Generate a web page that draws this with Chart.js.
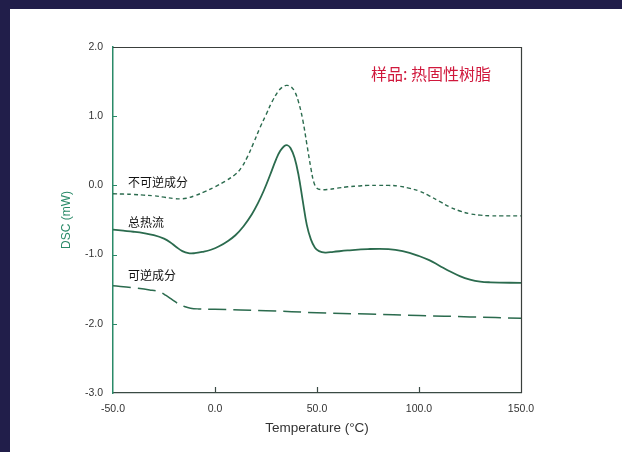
<!DOCTYPE html>
<html>
<head>
<meta charset="utf-8">
<script src="https://cdn.jsdelivr.net/npm/chart.js@4.4.1/dist/chart.umd.min.js"></script>
<style>
  html, body { margin: 0; padding: 0; width: 622px; height: 452px; overflow: hidden; background: #211e4a; }
  #panel { position: absolute; left: 10px; top: 9px; width: 612px; height: 443px; background: #ffffff; }
  #c { position: absolute; left: 0; top: 0; }
</style>
</head>
<body>
<div id="panel"></div>
<canvas id="c" width="622" height="452"></canvas>
<script>
// ---- Data ----
const chartTitle = '样品: 热固性树脂';
const xTitle = 'Temperature (°C)';
const yTitle = 'DSC (mW)';
const seriesNames = ['不可逆成分', '总热流', '可逆成分'];

// Non-reversing component (short dashes)
const nonRevT = [-50, -45, -40, -35, -30, -25, -20, -17, -14, -10, -5, 0, 5, 10, 13, 16, 19, 22, 25, 28, 31, 33, 35, 37, 39, 41, 43, 45, 47, 48.5, 50, 52, 55, 60, 65, 70, 75, 80, 85, 90, 95, 100, 105, 110, 115, 120, 125, 130, 135, 140, 150];
const nonRevV = [-0.12, -0.125, -0.13, -0.14, -0.15, -0.17, -0.19, -0.195, -0.185, -0.15, -0.09, -0.02, 0.06, 0.16, 0.26, 0.42, 0.62, 0.83, 1.02, 1.21, 1.36, 1.42, 1.445, 1.43, 1.36, 1.20, 0.95, 0.60, 0.25, 0.04, -0.04, -0.06, -0.06, -0.04, -0.02, -0.01, 0.00, 0.00, 0.00, -0.01, -0.04, -0.08, -0.15, -0.23, -0.31, -0.37, -0.41, -0.43, -0.44, -0.44, -0.44];

// Total heat flow (solid)
const totalT = [-50, -45, -40, -35, -30, -25, -22, -19, -16, -13, -10, -6, -2, 2, 6, 10, 14, 18, 21, 24, 27, 30, 32, 34, 35.5, 37, 39, 41, 43, 45, 47, 49, 51, 54, 58, 65, 75, 85, 92, 100, 105, 110, 115, 120, 125, 130, 135, 150];
const totalV = [-0.64, -0.655, -0.67, -0.69, -0.72, -0.77, -0.82, -0.89, -0.95, -0.98, -0.98, -0.96, -0.93, -0.88, -0.81, -0.72, -0.59, -0.42, -0.26, -0.07, 0.15, 0.38, 0.50, 0.57, 0.58, 0.54, 0.40, 0.14, -0.22, -0.57, -0.78, -0.90, -0.95, -0.97, -0.96, -0.94, -0.92, -0.92, -0.95, -1.02, -1.08, -1.16, -1.24, -1.31, -1.36, -1.39, -1.40, -1.41];

// Reversing component (long dashes)
const revT = [-50, -40, -32, -27, -24, -21, -18, -15, -12, -8, 0, 25, 50, 75, 100, 125, 150];
const revV = [-1.45, -1.48, -1.51, -1.54, -1.59, -1.65, -1.71, -1.75, -1.775, -1.785, -1.79, -1.81, -1.84, -1.86, -1.88, -1.90, -1.92];

const xTickMin = -50, xTickMax = 150, xTickStep = 50;
const yTickMin = -3, yTickMax = 2, yTickStep = 1;

function pts(ts, vs) { return ts.map((t, i) => ({ x: t, y: vs[i] })); }

const lineColor = '#2b6b4e';
const axisTeal = '#2a8a68';

const framePlugin = {
  id: 'frame',
  afterDraw(chart) {
    const ctx = chart.ctx;
    const { left, right, top, bottom } = chart.chartArea;
    const xs = chart.scales.x, ys = chart.scales.y;
    ctx.save();
    ctx.strokeStyle = '#3a3f3c';
    ctx.lineWidth = 1.2;
    ctx.beginPath();
    ctx.moveTo(left, top + 0.5); ctx.lineTo(right + 0.5, top + 0.5); ctx.lineTo(right + 0.5, bottom);
    ctx.stroke();
    ctx.strokeStyle = '#3a4a44';
    ctx.lineWidth = 1.2;
    ctx.beginPath();
    xs.ticks.forEach(t => {
      if (t.value > xTickMin && t.value < xTickMax) {
        const px = Math.round(xs.getPixelForValue(t.value)) + 0.5;
        ctx.moveTo(px, bottom); ctx.lineTo(px, bottom - 6);
      }
    });
    ctx.stroke();
    ctx.strokeStyle = axisTeal;
    ctx.beginPath();
    ys.ticks.forEach(t => {
      if (t.value > yTickMin && t.value < yTickMax) {
        const py = Math.round(ys.getPixelForValue(t.value)) + 0.5;
        ctx.moveTo(left, py); ctx.lineTo(left + 4, py);
      }
    });
    ctx.stroke();
    ctx.fillStyle = '#d0183c';
    ctx.font = '16px "Noto Sans CJK SC"';
    ctx.textBaseline = 'middle';
    ctx.textAlign = 'left';
    ctx.fillText(chartTitle, 371, 74);
    ctx.fillStyle = '#111111';
    ctx.font = '12px "Noto Sans CJK SC"';
    ctx.fillText(seriesNames[0], 128, 182);
    ctx.fillText(seriesNames[1], 128, 222);
    ctx.fillText(seriesNames[2], 128, 275);
    ctx.restore();
  }
};

new Chart(document.getElementById('c'), {
  type: 'line',
  data: {
    datasets: [
      { label: seriesNames[0], data: pts(nonRevT, nonRevV), borderColor: lineColor, borderWidth: 1.4, borderDash: [4, 3], pointRadius: 0, fill: false, tension: 0.4 },
      { label: seriesNames[1], data: pts(totalT, totalV), borderColor: lineColor, borderWidth: 1.8, pointRadius: 0, fill: false, tension: 0.4 },
      { label: seriesNames[2], data: pts(revT, revV), borderColor: lineColor, borderWidth: 1.5, borderDash: [18, 7], pointRadius: 0, fill: false, tension: 0.4 }
    ]
  },
  options: {
    responsive: false,
    animation: false,
    devicePixelRatio: 1,
    layout: { padding: { top: 47, right: 101, left: 0, bottom: 0 } },
    plugins: { legend: { display: false }, tooltip: { enabled: false }, title: { display: false } },
    scales: {
      x: {
        type: 'linear', min: xTickMin, max: xTickMax,
        afterFit(s) { s.height = 59; },
        grid: { display: false, drawTicks: false },
        border: { display: true, color: '#3a4a44', width: 1.3 },
        ticks: { stepSize: xTickStep, padding: 10, color: '#333333', font: { family: 'Liberation Sans', size: 10.5 }, callback: v => v.toFixed(1), maxRotation: 0, autoSkip: false },
        title: { display: true, text: xTitle, color: '#333333', font: { family: 'Liberation Sans', size: 13.5 }, padding: { top: 0, bottom: 16 } }
      },
      y: {
        type: 'linear', min: yTickMin, max: yTickMax,
        afterFit(s) { s.width = 113; },
        grid: { display: false, drawTicks: false },
        border: { display: true, color: axisTeal, width: 1.5 },
        ticks: { stepSize: yTickStep, padding: 10, color: '#333333', font: { family: 'Liberation Sans', size: 10.5 }, callback: v => v.toFixed(1), autoSkip: false },
        title: { display: true, text: yTitle, color: axisTeal, font: { family: 'Liberation Sans', size: 12 }, padding: { top: 59, bottom: 0 } }
      }
    }
  },
  plugins: [framePlugin]
});
</script>
</body>
</html>
